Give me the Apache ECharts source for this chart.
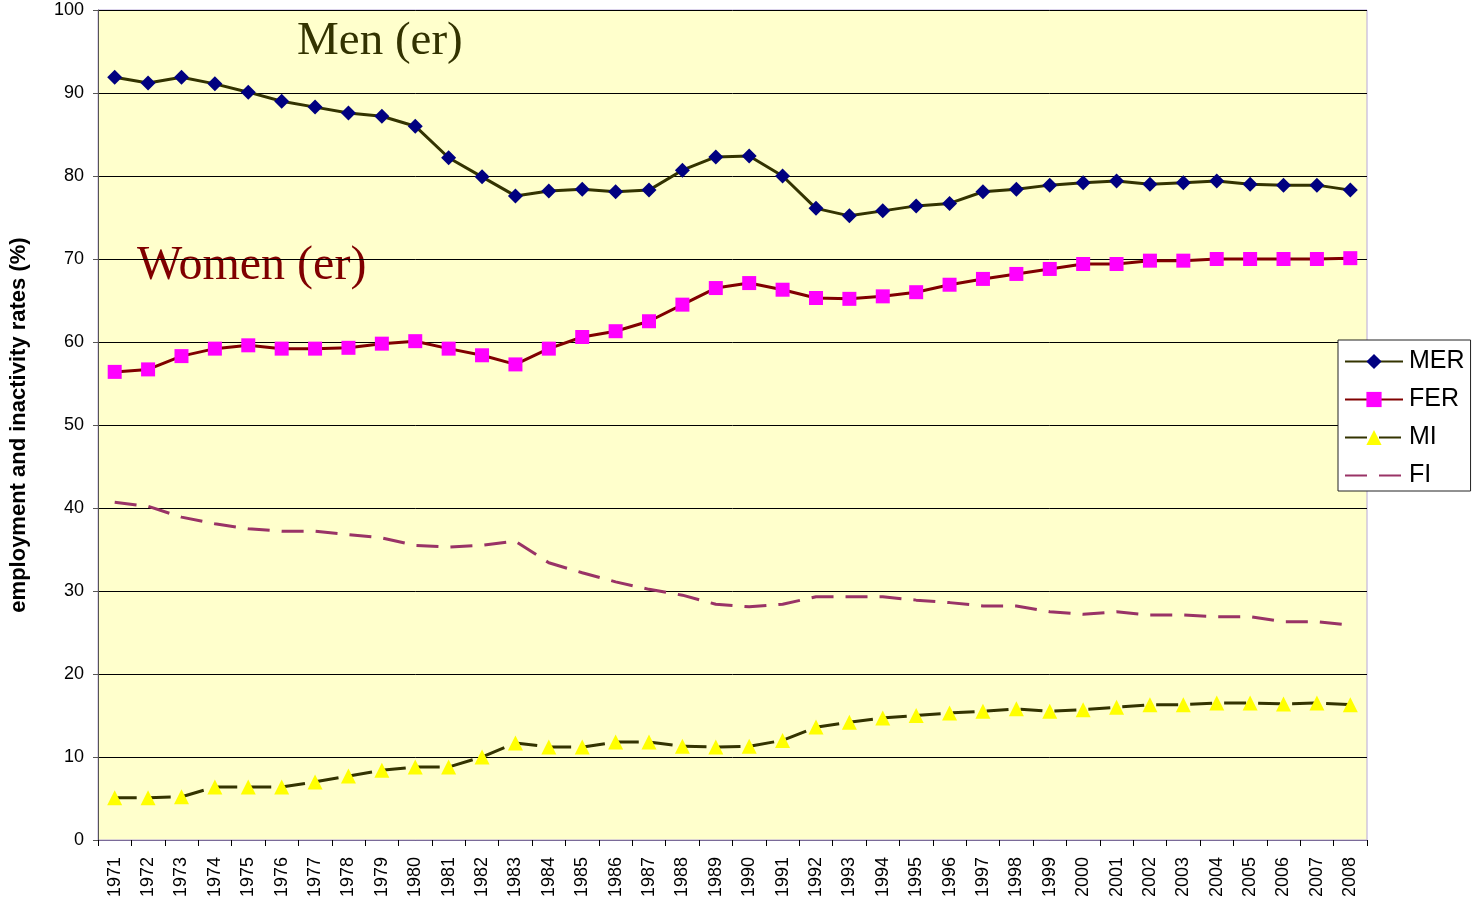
<!DOCTYPE html>
<html>
<head>
<meta charset="utf-8">
<script src="https://cdn.jsdelivr.net/npm/echarts@6/dist/echarts.min.js"></script>
<style>
  html, body { margin: 0; padding: 0; background: #fff; }
  #chart { width: 1473px; height: 905px; }
</style>
</head>
<body>
<div id="chart"></div>
<script>
// years on the x axis
var years = [];
for (var y = 1971; y <= 2008; y++) years.push(String(y));

// values
var mer = [91.9, 91.2, 91.9, 91.1, 90.1, 89.0, 88.3, 87.6, 87.2, 86.0,
           82.2, 79.9, 77.6, 78.2, 78.4, 78.1, 78.3, 80.7, 82.3, 82.4,
           80.0, 76.1, 75.2, 75.8, 76.4, 76.7, 78.1, 78.4, 78.9, 79.2,
           79.4, 79.0, 79.2, 79.4, 79.0, 78.9, 78.9, 78.3];
var fer = [56.4, 56.7, 58.3, 59.2, 59.6, 59.2, 59.2, 59.3, 59.8, 60.1,
           59.2, 58.4, 57.3, 59.2, 60.6, 61.3, 62.5, 64.5, 66.5, 67.1,
           66.3, 65.3, 65.2, 65.5, 66.0, 66.9, 67.6, 68.2, 68.8, 69.4,
           69.4, 69.8, 69.8, 70.0, 70.0, 70.0, 70.0, 70.1];
var mi = [5.1, 5.1, 5.2, 6.4, 6.4, 6.4, 7.0, 7.7, 8.4, 8.8,
          8.8, 10.0, 11.7, 11.2, 11.2, 11.8, 11.8, 11.3, 11.2, 11.3,
          12.0, 13.6, 14.2, 14.7, 15.0, 15.3, 15.5, 15.8, 15.5, 15.7,
          16.0, 16.3, 16.3, 16.5, 16.5, 16.4, 16.5, 16.3];
var fi = [40.7, 40.2, 38.9, 38.1, 37.5, 37.2, 37.2, 36.8, 36.4, 35.5,
          35.3, 35.5, 36.0, 33.4, 32.2, 31.1, 30.2, 29.5, 28.4, 28.1,
          28.4, 29.3, 29.3, 29.3, 28.9, 28.6, 28.2, 28.2, 27.5, 27.2,
          27.5, 27.1, 27.1, 26.9, 26.9, 26.3, 26.3, 25.9];
var yTicks = [0, 100, 10]; // min, max, step

var chart = echarts.init(document.getElementById('chart'));
var font = 'Liberation Sans, Arial, sans-serif';
var serif = '"Liberation Serif", "Times New Roman", serif';

var option = {
  animation: false,
  textStyle: { fontFamily: font },
  grid: {
    left: 96, right: 106, top: 10, bottom: 65,
    show: true,
    backgroundColor: '#FFFFCC',
    borderColor: '#b8a8d8',
    borderWidth: 1
  },
  legend: {
    orient: 'vertical',
    left: 1338, top: 340,
    width: 134,
    padding: [9, 6, 3, 6],
    backgroundColor: '#fff',
    borderColor: '#222',
    borderWidth: 1,
    itemWidth: 58, itemHeight: 19, itemGap: 13,
    textStyle: { fontSize: 25, color: '#000', fontFamily: font, padding: [0, 0, 0, 1] },
    data: ['MER', 'FER', 'MI', { name: 'FI', itemStyle: { opacity: 0 } }]
  },
  xAxis: {
    type: 'category',
    data: years,
    boundaryGap: true,
    axisLine: { lineStyle: { color: '#7a6a98', width: 1 } },
    axisTick: { show: true, length: 6, lineStyle: { color: '#000' } },
    axisLabel: { rotate: 90, interval: 0, fontSize: 18, color: '#000', margin: 17 },
    splitLine: { show: false }
  },
  yAxis: {
    type: 'value',
    min: yTicks[0], max: yTicks[1], interval: yTicks[2],
    name: 'employment and inactivity rates (%)',
    nameLocation: 'middle',
    nameGap: 68,
    nameRotate: 90,
    nameTextStyle: { fontSize: 22, fontWeight: 'bold', color: '#000' },
    axisLine: { show: true, lineStyle: { color: '#555', width: 1 } },
    axisTick: { show: true, length: 5, lineStyle: { color: '#555' } },
    axisLabel: { fontSize: 18, color: '#000', margin: 14 },
    splitLine: { show: true, lineStyle: { color: '#000', width: 1 } }
  },
  graphic: [
    { type: 'text', left: 297, top: 18,
      style: { text: 'Men (er)', font: '47px ' + serif, fill: '#333300' } },
    { type: 'text', left: 137, top: 242,
      style: { text: 'Women (er)', font: '48px ' + serif, fill: '#800000' } }
  ],
  series: [
    { name: 'MER', type: 'line', data: mer,
      symbol: 'diamond', symbolSize: 15,
      itemStyle: { color: '#000080' },
      lineStyle: { color: '#333300', width: 3 } },
    { name: 'FER', type: 'line', data: fer,
      symbol: 'rect', symbolSize: 14,
      itemStyle: { color: '#FF00FF' },
      lineStyle: { color: '#800000', width: 3 } },
    { name: 'MI', type: 'line', data: mi,
      symbol: 'triangle', symbolSize: 15,
      itemStyle: { color: '#FFFF00' },
      lineStyle: { color: '#333300', width: 3, type: [22, 12] } },
    { name: 'FI', type: 'line', data: fi,
      symbol: 'none',
      itemStyle: { color: '#993366' },
      lineStyle: { color: '#993366', width: 3, type: [22, 12] } }
  ]
};
chart.setOption(option);
</script>
</body>
</html>
